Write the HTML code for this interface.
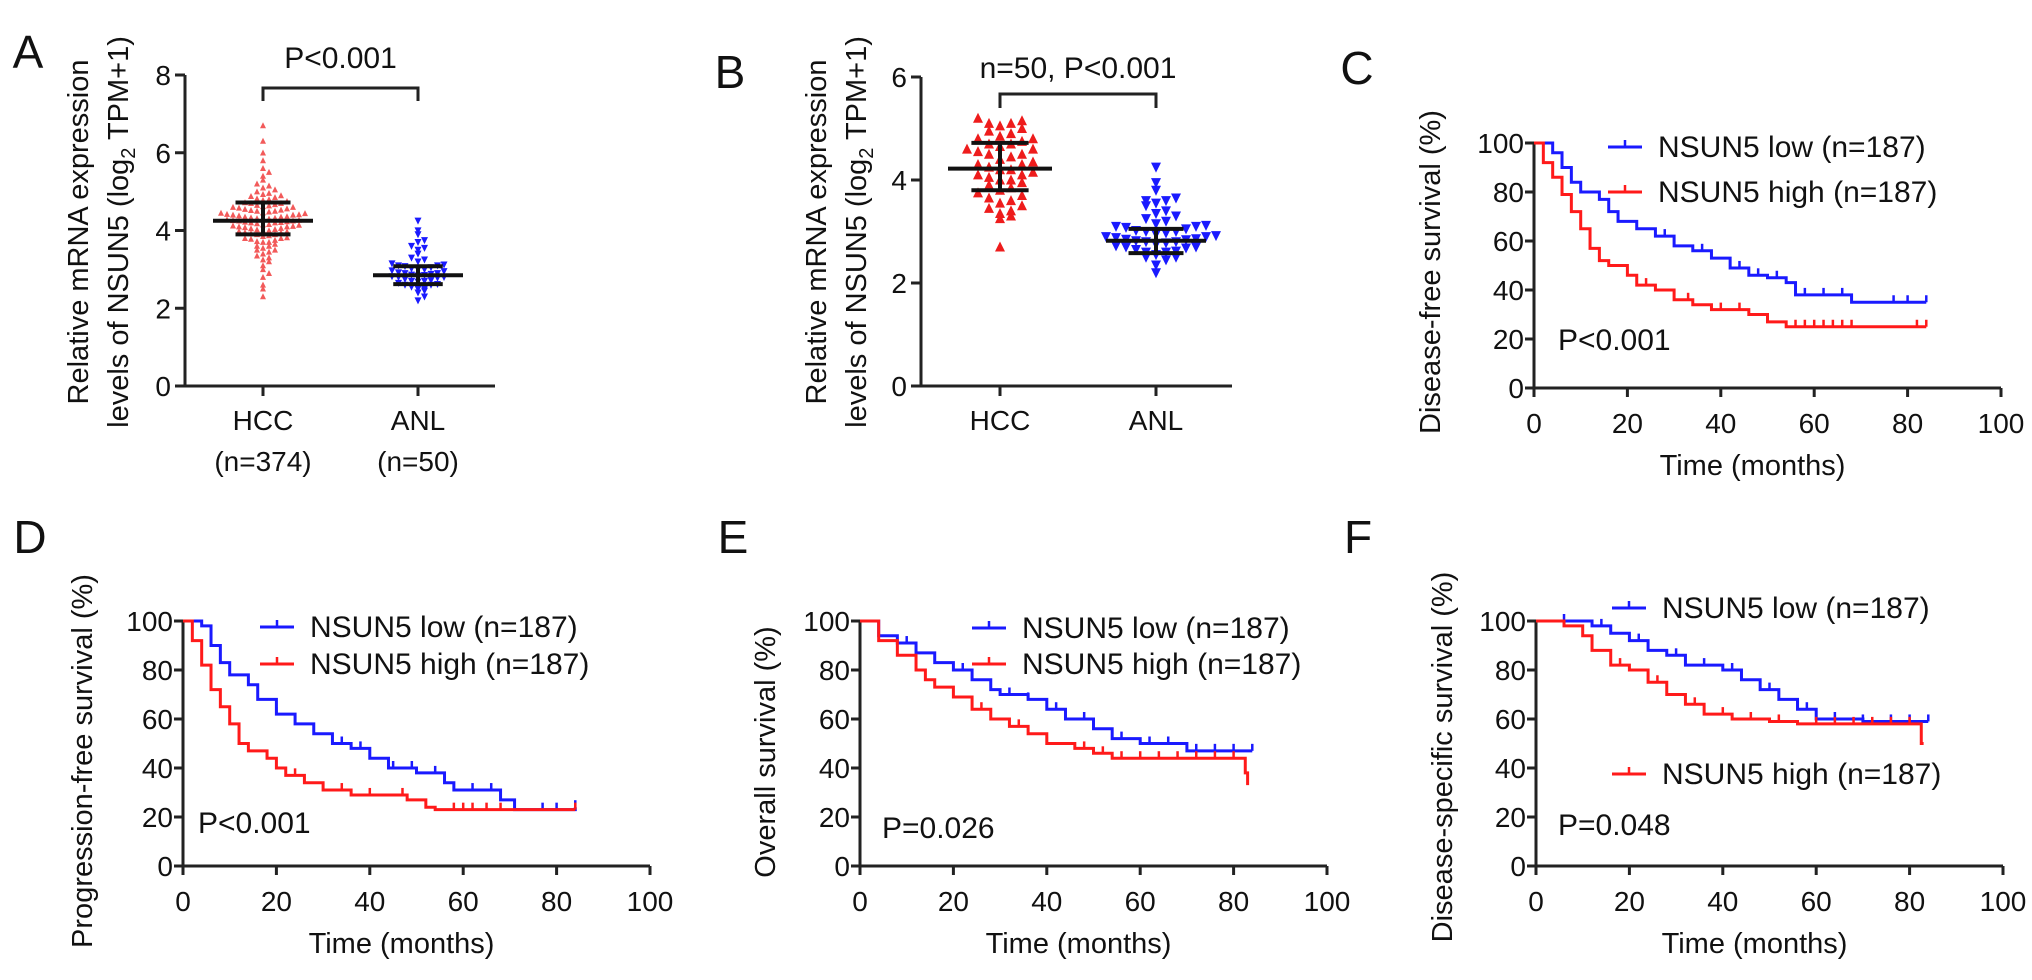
<!DOCTYPE html>
<html><head><meta charset="utf-8"><style>
html,body{margin:0;padding:0;background:#fff}
svg{display:block;font-family:"Liberation Sans",Arial,sans-serif}
</style></head><body>
<svg id="fig" width="2032" height="980" viewBox="0 0 2032 980" xmlns="http://www.w3.org/2000/svg"></svg>
<script>
// ---------- data: scatter panels ----------
const scatterCategories = ["HCC","ANL"];
const aHccValues = [2.3,2.5,2.6,2.8,2.9,3.0,3.1,3.2,3.25,3.3,3.35,3.4,3.45,3.5,3.5,3.55,3.6,3.6,3.65,3.7,3.7,3.72,3.75,3.78,3.8,3.8,3.82,3.85,3.87,3.9,3.9,3.92,3.94,3.95,3.97,3.98,4.0,4.0,4.02,4.03,4.05,4.06,4.08,4.1,4.1,4.11,4.12,4.14,4.15,4.16,4.18,4.2,4.2,4.21,4.22,4.23,4.25,4.25,4.26,4.27,4.28,4.3,4.3,4.31,4.32,4.33,4.35,4.35,4.36,4.38,4.4,4.4,4.41,4.42,4.44,4.45,4.46,4.48,4.5,4.5,4.52,4.53,4.55,4.56,4.58,4.6,4.6,4.62,4.64,4.65,4.67,4.7,4.7,4.72,4.75,4.78,4.8,4.82,4.85,4.88,4.9,4.93,4.96,5.0,5.05,5.1,5.15,5.2,5.3,5.4,5.5,5.6,5.8,6.0,6.3,6.7];
const aAnlValues = [2.2,2.3,2.4,2.45,2.5,2.5,2.55,2.6,2.6,2.62,2.65,2.68,2.7,2.7,2.72,2.75,2.78,2.8,2.8,2.82,2.84,2.85,2.86,2.88,2.9,2.9,2.92,2.95,2.97,3.0,3.0,3.02,3.05,3.08,3.1,3.1,3.12,3.15,3.2,3.25,3.3,3.4,3.5,3.55,3.6,3.7,3.75,3.9,4.0,4.25];
const aStats = {hcc:[3.9,4.25,4.72], anl:[2.62,2.85,3.08]};
const aYTicks = [0,2,4,6,8];
const bHccValues = [2.7,3.25,3.3,3.35,3.4,3.45,3.5,3.55,3.6,3.65,3.7,3.75,3.8,3.85,3.9,3.95,4.0,4.0,4.05,4.1,4.1,4.15,4.2,4.2,4.25,4.3,4.3,4.35,4.4,4.45,4.5,4.5,4.55,4.6,4.6,4.65,4.7,4.7,4.75,4.8,4.8,4.85,4.9,4.95,5.0,5.05,5.1,5.1,5.15,5.2];
const bAnlValues = [2.2,2.35,2.45,2.5,2.5,2.55,2.6,2.6,2.62,2.65,2.68,2.7,2.7,2.72,2.75,2.78,2.8,2.8,2.82,2.84,2.85,2.86,2.88,2.9,2.9,2.92,2.95,2.97,3.0,3.0,3.02,3.05,3.08,3.1,3.1,3.12,3.15,3.2,3.25,3.3,3.35,3.4,3.5,3.55,3.6,3.6,3.65,3.8,3.95,4.25];
const bStats = {hcc:[3.8,4.22,4.72], anl:[2.58,2.82,3.05]};
const bYTicks = [0,2,4,6];

// ---------- data: Kaplan-Meier panels ----------
const kmXTicks = [0,20,40,60,80,100];
const kmYTicks = [0,20,40,60,80,100];
const dfsLowT = [0,2,4,6,8,10,14,16,18,22,26,30,34,38,42,46,50,54,56,68,84];
const dfsLowS = [100,100,96,90,84,80,77,72,68,65,62,58,56,53,49,46,45,43,38,35,35];
const dfsHighT = [0,2,4,6,8,10,12,14,16,20,22,26,30,34,38,46,50,54,84];
const dfsHighS = [100,92,86,79,72,65,57,52,50,46,42,40,36,34,32,30,27,25,25];
const dfsLowCens = [18,28,36,44,48,52,58,62,66,77,80,84];
const dfsHighCens = [24,33,40,44,56,58,60,62,64,66,68,82,84];
const pfsLowT = [0,2,4,6,8,10,14,16,20,24,28,32,36,40,44,50,56,58,68,71,84];
const pfsLowS = [100,100,98,90,83,78,74,68,62,58,54,50,48,44,40,38,34,31,27,23,24];
const pfsHighT = [0,2,4,6,8,10,12,14,18,20,22,26,30,36,48,52,54,84];
const pfsHighS = [100,92,82,72,65,58,50,47,44,40,37,34,31,29,27,24,23,23];
const pfsLowCens = [20,28,34,38,45,49,54,62,66,77,80,84];
const pfsHighCens = [18,24,34,40,47,58,60,62,65,68,84];
const osLowT = [0,4,8,12,16,20,24,28,30,36,40,44,50,54,60,70,84];
const osLowS = [100,94,91,87,83,80,76,72,70,68,64,60,56,52,50,47,47];
const osHighT = [0,4,8,12,14,16,20,24,28,32,36,40,46,50,54,82,82.5,83];
const osHighS = [100,92,86,80,76,73,69,64,60,57,54,50,48,46,44,44,38,33];
const osLowCens = [10,22,32,36,42,48,56,62,66,72,76,80,84];
const osHighCens = [16,26,34,40,48,52,56,60,64,68,72,76,80];
const dssLowT = [0,8,12,16,20,24,28,32,40,44,48,52,56,60,70,84];
const dssLowS = [100,100,98,95,92,88,86,82,80,76,72,68,64,60,59,59];
const dssHighT = [0,6,10,12,16,20,24,28,32,36,42,50,56,82,82.5,83];
const dssHighS = [100,98,94,88,82,80,75,70,66,62,60,59,58,58,50,50];
const dssLowCens = [6,14,22,30,36,42,50,58,64,70,76,80,84];
const dssHighCens = [18,26,34,40,46,52,60,64,68,72,76,80];

const NS = "http://www.w3.org/2000/svg";
const svg = document.getElementById("fig");
function mk(tag, attrs, parent){
  const e = document.createElementNS(NS, tag);
  for (const k in attrs) e.setAttribute(k, attrs[k]);
  (parent||svg).appendChild(e);
  return e;
}
function txt(x,y,s,size,anchor,parent){
  const t = mk("text",{x:x,y:y,"font-size":size,"text-anchor":anchor||"middle",fill:"#111"},parent);
  t.textContent = s;
  return t;
}
function vtitle(cx,cy,size,parent){
  return mk("text",{x:0,y:0,"font-size":size,"text-anchor":"middle",fill:"#111",transform:"translate("+cx+","+cy+") rotate(-90)"},parent);
}

// ---------- scatter panel ----------
function scatterPanel(o){
  const g = mk("g",{});
  
  
  const ys = v => o.y0 - (v/o.yMax)*(o.y0-o.yTop);
  const ax = mk("path",{d:"M"+o.ax+" "+(o.yTop)+" V"+o.y0+" M"+(o.ax-10)+" "+o.y0+" H"+o.axEnd,stroke:"#222","stroke-width":3,fill:"none"},g);
  
  
  o.yTicks.forEach(v=>{
    const y = ys(v);
    mk("line",{x1:o.ax-10,x2:o.ax,y1:y,y2:y,stroke:"#222","stroke-width":3},g);
    const t = txt(o.ax-14,y+10,String(v),28,"end",g);
    
    
  });
  scatterCategories.forEach((c,i)=>{
    const x = o.cx[i];
    mk("line",{x1:x,x2:x,y1:o.y0,y2:o.y0+10,stroke:"#222","stroke-width":3},g);
    const t = txt(x,o.y0+44,c,28,"middle",g);
    
    
    if (o.nLabels){
      const t2 = txt(x,o.y0+85,o.nLabels[i],28,"middle",g);
      
      
    }
  });
  function swarm(vals, cx, color, shape, sz, sp){
    const bins = {};
    vals.forEach(v=>{
      const y = ys(v);
      const b = Math.round(y/sp);
      bins[b] = (bins[b]||0);
      const k = bins[b]++;
      const off = (k===0)?0:(k%2? 1:-1)*Math.ceil(k/2)*sp;
      const x = cx+off;
      let d;
      if (shape==="up") d = "M"+x+" "+(y-sz*0.55)+" L"+(x+sz/2)+" "+(y+sz*0.45)+" L"+(x-sz/2)+" "+(y+sz*0.45)+"Z";
      else d = "M"+x+" "+(y+sz*0.55)+" L"+(x+sz/2)+" "+(y-sz*0.45)+" L"+(x-sz/2)+" "+(y-sz*0.45)+"Z";
      const p = mk("path",{d:d,fill:color},g);
      
      
    });
  }
  swarm(o.hcc, o.cx[0], o.hccColor, "up", o.szH, o.spH);
  swarm(o.anl, o.cx[1], "#1a1aff", "down", o.szA, o.spA);
  [[o.stats.hcc,o.cx[0],o.wH],[o.stats.anl,o.cx[1],o.wA]].forEach(s=>{
    const st=s[0], x=s[1], w=s[2];
    const e = mk("path",{d:"M"+(x-w)+" "+ys(st[1])+" H"+(x+w)+" M"+(x-w*0.55)+" "+ys(st[0])+" H"+(x+w*0.55)+" M"+(x-w*0.55)+" "+ys(st[2])+" H"+(x+w*0.55)+" M"+x+" "+ys(st[0])+" V"+ys(st[2]),stroke:"#111","stroke-width":4,fill:"none"},g);
    
    
  });
  const br = mk("path",{d:"M"+o.cx[0]+" "+o.brB+" V"+o.brY+" H"+o.cx[1]+" V"+o.brB,stroke:"#222","stroke-width":3,fill:"none"},g);
  
  
  const pt = txt((o.cx[0]+o.cx[1])/2,o.pY,o.pText,30,"middle",g);
  
  
  const t1 = vtitle(o.tX1,o.tY,29,g); t1.textContent = "Relative mRNA expression";
  
  
  const t2 = vtitle(o.tX2,o.tY,29,g);
  
  
  const a = mk("tspan",{},t2); a.textContent="levels of NSUN5 (log";
  const sub = mk("tspan",{"font-size":20,dy:7},t2); sub.textContent="2";
  const c = mk("tspan",{dy:-7},t2); c.textContent=" TPM+1)";
  const L = txt(o.lx,o.ly,o.label,46,"middle",g);
  
  
}

scatterPanel({name:"panel-a",ax:185,axEnd:495,yTop:75,y0:386,yMax:8,yTicks:aYTicks,cx:[263,418],
  nLabels:["(n=374)","(n=50)"],hcc:aHccValues,anl:aAnlValues,stats:aStats,hccColor:"#f25a5a",
  szH:6,spH:6,szA:7,spA:6.5,wH:50,wA:45,brY:88,brB:101,pY:68,pText:"P<0.001",
  tX1:88,tX2:128,tY:232,lx:28,ly:68,label:"A"});
scatterPanel({name:"panel-b",ax:921,axEnd:1232,yTop:77,y0:386,yMax:6,yTicks:bYTicks,cx:[1000,1156],
  nLabels:null,hcc:bHccValues,anl:bAnlValues,stats:bStats,hccColor:"#ee1c1c",
  szH:10,spH:11,szA:10,spA:10,wH:52,wA:50,brY:94,brB:108,pY:78,pText:"n=50, P<0.001",
  tX1:826,tX2:866,tY:232,lx:730,ly:88,label:"B"});

// ---------- KM panel ----------
function kmPanel(o){
  const g = mk("g",{});
  
  
  const xs = t => o.ox + t/100*467;
  const ys = s => o.y0 - s/100*(o.y0-o.y100);
  const ax = mk("path",{d:"M"+o.ox+" "+o.y100+" V"+o.y0+" H"+xs(100),stroke:"#222","stroke-width":3,fill:"none"},g);
  
  
  kmYTicks.forEach(v=>{
    const y=ys(v);
    mk("line",{x1:o.ox-9,x2:o.ox,y1:y,y2:y,stroke:"#222","stroke-width":3},g);
    const t = txt(o.ox-10,y+10,String(v),28,"end",g);
    
    
  });
  kmXTicks.forEach(v=>{
    const x=xs(v);
    mk("line",{x1:x,x2:x,y1:o.y0,y2:o.y0+9,stroke:"#222","stroke-width":3},g);
    const t = txt(x,o.y0+45,String(v),28,"middle",g);
    
    
  });
  const xt = txt(xs(50)-15,o.y0+87,"Time (months)",29,"middle",g);
  
  
  const yt = vtitle(o.ytX,o.ytY,29,g); yt.textContent=o.yTitle;
  
  
  function stepAt(T,S,t){ let s=S[0]; for(let i=0;i<T.length;i++){ if(T[i]<=t) s=S[i]; } return s; }
  function curve(T,S,C,color,nm){
    let d = "M"+xs(T[0])+" "+ys(S[0]);
    for(let i=1;i<T.length;i++){ d += " H"+xs(T[i])+" V"+ys(S[i]); }
    const p = mk("path",{d:d,stroke:color,"stroke-width":3,fill:"none"},g);
    
    
    C.forEach(t=>{
      const y=ys(stepAt(T,S,t));
      const c = mk("line",{x1:xs(t),x2:xs(t),y1:y-7,y2:y,stroke:color,"stroke-width":2.5},g);
      
      
    });
  }
  curve(o.lowT,o.lowS,o.lowC,"#1a1aff","survival-curve-low");
  curve(o.highT,o.highS,o.highC,"#ff1a1a","survival-curve-high");
  [[o.legLowY,"#1a1aff","NSUN5 low (n=187)","legend-entry-low"],[o.legHighY,"#ff1a1a","NSUN5 high (n=187)","legend-entry-high"]].forEach(l=>{
    const lg = mk("g",{},g);
    
    
    mk("line",{x1:o.legX,x2:o.legX+34,y1:l[0],y2:l[0],stroke:l[1],"stroke-width":3},lg);
    mk("line",{x1:o.legX+17,x2:o.legX+17,y1:l[0]-7,y2:l[0],stroke:l[1],"stroke-width":2.5},lg);
    txt(o.legX+50,l[0]+10,l[2],30,"start",lg);
  });
  const pt = txt(o.pX,o.pY,o.pText,30,"start",g);
  
  
  const L = txt(o.lx,o.ly,o.label,46,"middle",g);
  
  
}

kmPanel({name:"panel-c",ox:1534,y100:143,y0:388,yTitle:"Disease-free survival (%)",ytX:1440,ytY:272,
  lowT:dfsLowT,lowS:dfsLowS,lowC:dfsLowCens,highT:dfsHighT,highS:dfsHighS,highC:dfsHighCens,
  legX:1608,legLowY:147,legHighY:192,pX:1558,pY:350,pText:"P<0.001",lx:1357,ly:84,label:"C"});
kmPanel({name:"panel-d",ox:183,y100:621,y0:866,yTitle:"Progression-free survival (%)",ytX:92,ytY:761,
  lowT:pfsLowT,lowS:pfsLowS,lowC:pfsLowCens,highT:pfsHighT,highS:pfsHighS,highC:pfsHighCens,
  legX:260,legLowY:627,legHighY:664,pX:198,pY:833,pText:"P<0.001",lx:30,ly:553,label:"D"});
kmPanel({name:"panel-e",ox:860,y100:621,y0:866,yTitle:"Overall survival (%)",ytX:775,ytY:752,
  lowT:osLowT,lowS:osLowS,lowC:osLowCens,highT:osHighT,highS:osHighS,highC:osHighCens,
  legX:972,legLowY:628,legHighY:664,pX:882,pY:838,pText:"P=0.026",lx:733,ly:553,label:"E"});
kmPanel({name:"panel-f",ox:1536,y100:621,y0:866,yTitle:"Disease-specific survival (%)",ytX:1452,ytY:757,
  lowT:dssLowT,lowS:dssLowS,lowC:dssLowCens,highT:dssHighT,highS:dssHighS,highC:dssHighCens,
  legX:1612,legLowY:608,legHighY:774,pX:1558,pY:835,pText:"P=0.048",lx:1358,ly:553,label:"F"});
</script>
</body></html>
